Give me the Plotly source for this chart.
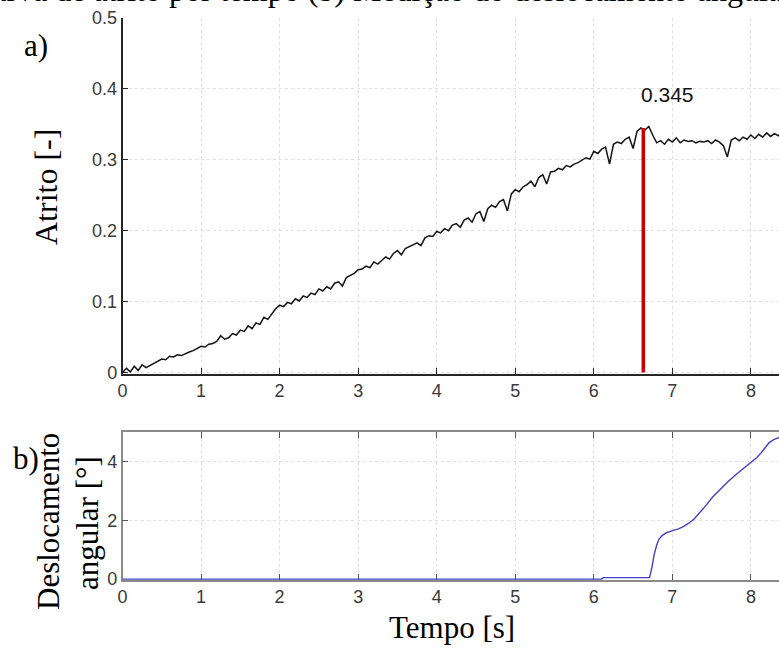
import plotly.graph_objects as go

# ---------------- data ----------------
dt = 0.05
friction = [
    0.000, 0.006, 0.001, 0.009, 0.003, 0.011, 0.007, 0.010, 0.012, 0.016,
    0.019, 0.018, 0.023, 0.022, 0.025, 0.024, 0.027, 0.029, 0.031, 0.034,
    0.037, 0.036, 0.040, 0.041, 0.044, 0.052, 0.047, 0.049, 0.055, 0.053,
    0.060, 0.058, 0.066, 0.062, 0.070, 0.068, 0.078, 0.075, 0.083, 0.090,
    0.095, 0.093, 0.099, 0.097, 0.104, 0.101, 0.108, 0.106, 0.112, 0.110,
    0.118, 0.115, 0.121, 0.118, 0.126, 0.128, 0.122, 0.134, 0.137, 0.140,
    0.145, 0.146, 0.150, 0.148, 0.156, 0.153, 0.158, 0.163, 0.160, 0.168,
    0.172, 0.166, 0.175, 0.178, 0.181, 0.183, 0.179, 0.190, 0.193, 0.192,
    0.199, 0.197, 0.203, 0.200, 0.208, 0.210, 0.205, 0.215, 0.218, 0.212,
    0.224, 0.227, 0.213, 0.231, 0.236, 0.233, 0.241, 0.244, 0.228, 0.252,
    0.258, 0.255, 0.262, 0.265, 0.270, 0.262, 0.275, 0.279, 0.266, 0.283,
    0.284, 0.288, 0.286, 0.292, 0.290, 0.294, 0.296, 0.299, 0.303, 0.301,
    0.312, 0.309, 0.315, 0.318, 0.294, 0.322, 0.325, 0.323, 0.329, 0.332,
    0.316, 0.340, 0.345, 0.342, 0.347, 0.335, 0.324, 0.327, 0.322, 0.329,
    0.325, 0.331, 0.324, 0.328, 0.326, 0.327, 0.324, 0.326, 0.325, 0.327,
    0.323, 0.328, 0.325, 0.320, 0.304, 0.328, 0.331, 0.327, 0.332, 0.329,
    0.335, 0.330, 0.336, 0.332, 0.338, 0.333, 0.337, 0.334, 0.340,
]
time_f = [round(i * dt, 2) for i in range(len(friction))]

peak_time = 6.63
peak_value = 0.345
peak_label = "0.345"

ang_time = [0.00, 6.10, 6.12, 6.71, 6.74, 6.77, 6.80, 6.83, 6.87, 6.92,
            7.00, 7.08, 7.15, 7.21, 7.28, 7.34, 7.42, 7.51, 7.61, 7.72,
            7.83, 7.94, 8.02, 8.08, 8.13, 8.18, 8.23, 8.29, 8.35, 8.40]
ang_value = [0.00, 0.00, 0.05, 0.05, 0.40, 0.85, 1.15, 1.36, 1.48, 1.57,
             1.65, 1.71, 1.80, 1.90, 2.05, 2.22, 2.48, 2.78, 3.06, 3.34,
             3.60, 3.84, 4.00, 4.14, 4.29, 4.46, 4.63, 4.74, 4.82, 4.86]

x_ticks = [0, 1, 2, 3, 4, 5, 6, 7, 8]
y1_ticks = [0, 0.1, 0.2, 0.3, 0.4, 0.5]
y1_labels = ["0", "0.1", "0.2", "0.3", "0.4", "0.5"]
y2_ticks = [0, 2, 4]

caption = "Figura 4 – (a) Curva de atrito por tempo (b) Medição do deslocamento angular"

# ---------------- figure ----------------
W, H = 779, 659
x0_px, px_per_s = 122.5, 78.55
x_end = (W - x0_px) / px_per_s

fig = go.Figure()
fig.add_trace(go.Scatter(x=time_f, y=friction, mode="lines",
                         line=dict(color="#141414", width=1.5),
                         xaxis="x", yaxis="y", showlegend=False))
fig.add_trace(go.Scatter(x=[peak_time, peak_time], y=[0, peak_value], mode="lines",
                         line=dict(color="#c80000", width=3.5),
                         xaxis="x", yaxis="y", showlegend=False))
fig.add_trace(go.Scatter(x=ang_time, y=ang_value, mode="lines",
                         line=dict(color="#4040c8", width=1.4),
                         xaxis="x2", yaxis="y2", showlegend=False))

tickfont = dict(family="Liberation Sans, Arial", size=18, color="#3a3a3a")
grid = dict(showgrid=True, gridcolor="#e0e0e0", griddash="dot", gridwidth=1,
            automargin=False, zeroline=False)

xd0 = x0_px / W
fig.update_layout(
    width=W, height=H,
    margin=dict(l=0, r=0, t=0, b=0, pad=0),
    paper_bgcolor="white", plot_bgcolor="white",
    xaxis=dict(domain=[xd0, 1], range=[0, x_end], tickvals=x_ticks,
               ticks="inside", ticklen=6, tickcolor="#262626", tickfont=tickfont,
               showline=True, linecolor="#262626", linewidth=1.5,
               layer="below traces", anchor="y", **grid),
    yaxis=dict(domain=[1 - 374 / H, 1 - 18 / H], range=[-0.002, 0.5], tickvals=y1_ticks,
               ticktext=y1_labels, ticks="inside", ticklen=6, tickcolor="#262626",
               tickfont=tickfont, showline=True, linecolor="#262626", linewidth=1.5,
               layer="below traces", anchor="x", **grid),
    xaxis2=dict(domain=[xd0, 1], range=[0, x_end], tickvals=x_ticks,
                ticks="inside", ticklen=6, tickcolor="#555555", tickfont=tickfont,
                showline=True, linecolor="#8a8a8a", linewidth=1.5, mirror="ticks",
                layer="below traces", anchor="y2", **grid),
    yaxis2=dict(domain=[1 - 580 / H, 1 - 432 / H], range=[-0.03, 5], tickvals=y2_ticks,
                ticks="inside", ticklen=6, tickcolor="#555555", tickfont=tickfont,
                showline=True, linecolor="#8a8a8a", linewidth=1.5,
                layer="below traces", anchor="x2", **grid),
)

serif = "Liberation Serif, Times New Roman, serif"
big = dict(family=serif, size=31, color="black")


def lab(text, x, y, angle=0, size=None):
    f = dict(big)
    if size:
        f["size"] = size
    return dict(text=text, x=x / W, y=1 - y / H, xref="paper", yref="paper",
                xanchor="center", yanchor="middle", textangle=angle,
                showarrow=False, font=f)


ann = [
    dict(text=peak_label, x=peak_time, y=0.392, xref="x", yref="y",
         xanchor="left", yanchor="middle", showarrow=False, xshift=-4,
         font=dict(family="Liberation Sans, Arial", size=21, color="#111")),
    lab("a)", 36, 45),
    lab("b)", 26, 458),
    lab("Atrito [-]", 46, 187, -90, 32),
    lab("Deslocamento", 48, 522, -90),
    lab("angular [°]", 87, 523, -90),
    lab("Tempo [s]", 452, 627),
    dict(text=caption, x=1.02, y=1 - 10 / H, xref="paper", yref="paper",
         xanchor="right", yanchor="bottom", showarrow=False,
         font=dict(family=serif, size=32, color="black")),
]
fig.update_layout(annotations=ann)

fig.write_html("out.html", config={"displayModeBar": False},
               post_script="document.body.style.margin='0';")
